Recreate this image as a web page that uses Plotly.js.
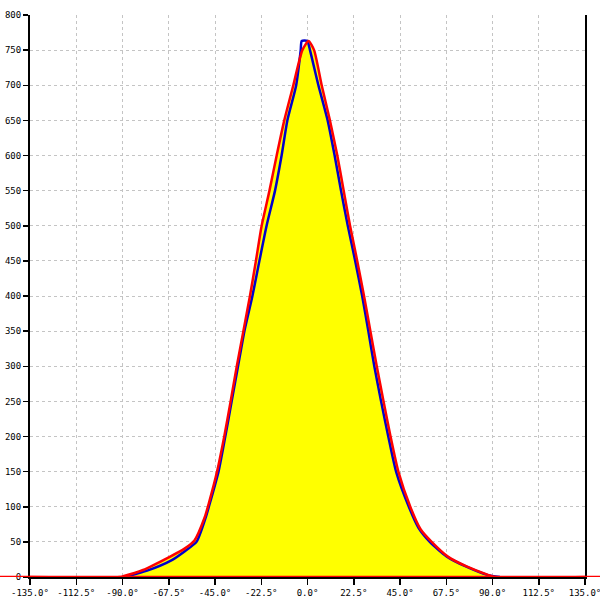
<!DOCTYPE html>
<html>
<head>
<meta charset="utf-8">
<script src="https://cdn.plot.ly/plotly-3.0.1.min.js"></script>
<style>html,body{margin:0;padding:0;background:#fff;}#chart{width:600px;height:600px;}</style>
</head>
<body>
<div id="chart"></div>
<script>
// Red series (degrees, counts)
const redX = [-135, -91.2, -89.7, -80, -67.5, -60, -55, -50, -48, -44, -40.5, -37.4, -34.4, -31.2, -28, -25.1, -22.3, -18.5, -15, -11.3, -6.9, -2.5, 0.5, 3.2, 6.9, 10.9, 14.5, 17.6, 20.7, 24.2, 27.5, 30.6, 33.7, 37, 40.4, 44.2, 50, 55, 60.4, 68.3, 77.4, 87.8, 91.2, 135];
const redY = [0, 0, 1, 10, 28, 40, 52, 85, 105, 150, 200, 250, 300, 350, 400, 450, 500, 550, 600, 650, 700, 750, 763, 750, 700, 650, 600, 550, 500, 450, 400, 350, 300, 250, 200, 150, 100, 68, 50, 29, 15, 3, 0, 0];
// Blue series
const blueX = [-89, -78, -66, -60, -54, -49.5, -47.5, -43.3, -40, -36.9, -33.8, -30.7, -26.8, -23.4, -19.9, -15.8, -12.6, -9.8, -5.5, -3.3, -2.8, -0.1, 1.2, 5.3, 9.8, 13.2, 16.3, 19.6, 23.2, 26.6, 29.6, 32.5, 35.8, 39.3, 43.1, 49.3, 54, 59.5, 67.8, 77, 87.5, 93.6];
const blueY = [0, 9, 24, 36, 50, 85, 105, 150, 200, 250, 300, 350, 400, 450, 500, 550, 600, 650, 700, 750, 763, 763, 750, 700, 650, 600, 550, 500, 450, 400, 350, 300, 250, 200, 150, 100, 70, 50, 29, 15, 3, 0];
// Ticks
const xTicks = [-135, -112.5, -90, -67.5, -45, -22.5, 0, 22.5, 45, 67.5, 90, 112.5, 135];
const yTicks = [0, 50, 100, 150, 200, 250, 300, 350, 400, 450, 500, 550, 600, 650, 700, 750, 800];

const xText = xTicks.map(v => v.toFixed(1) + '°');
const font = {family: 'DejaVu Sans Mono', size: 9, color: '#000'};
const sm = {shape: 'spline', smoothing: 0.6};

const traces = [
  {x: redX, y: redY, type: 'scatter', mode: 'lines', fill: 'tozeroy', fillcolor: '#ffff00',
   line: Object.assign({width: 0, color: 'rgba(0,0,0,0)'}, sm), hoverinfo: 'skip', showlegend: false},
  {x: blueX, y: blueY, type: 'scatter', mode: 'lines', line: Object.assign({color: '#0000cc', width: 2.5}, sm), showlegend: false},
  {x: redX, y: redY, type: 'scatter', mode: 'lines', line: Object.assign({color: '#ff0000', width: 2.5}, sm), showlegend: false}
];

const layout = {
  width: 600, height: 600,
  margin: {l: 30, r: 15, t: 15, b: 23},
  paper_bgcolor: '#fff', plot_bgcolor: '#fff',
  showlegend: false,
  font: font,
  xaxis: {
    range: [-135, 135], tickvals: xTicks, ticktext: xText, ticklabeloverflow: 'allow',
    showline: true, linecolor: '#000', linewidth: 2, mirror: false,
    ticks: 'outside', ticklen: 6, tickwidth: 1.5, tickcolor: '#000',
    showgrid: true, gridcolor: '#c4c4c4', gridwidth: 1, griddash: '3px,3px',
    zeroline: false, tickfont: font, layer: 'below traces'
  },
  yaxis: {
    range: [0, 800], tickvals: yTicks, ticktext: yTicks.map(String), ticklabeloverflow: 'allow',
    showline: true, linecolor: '#000', linewidth: 2, mirror: true,
    ticks: 'outside', ticklen: 5, tickwidth: 1.5, tickcolor: '#000',
    showgrid: true, gridcolor: '#c4c4c4', gridwidth: 1, griddash: '3px,3px',
    zeroline: false, tickfont: font, layer: 'below traces'
  },
  shapes: [
    {type: 'line', xref: 'paper', yref: 'y', x0: -30/555, x1: 1 + 15/555, y0: redY[0], y1: redY[0],
     line: {color: '#ff0000', width: 2.5}, layer: 'above'}
  ]
};

Plotly.newPlot('chart', traces, layout, {displayModeBar: false, staticPlot: true});
</script>
</body>
</html>
